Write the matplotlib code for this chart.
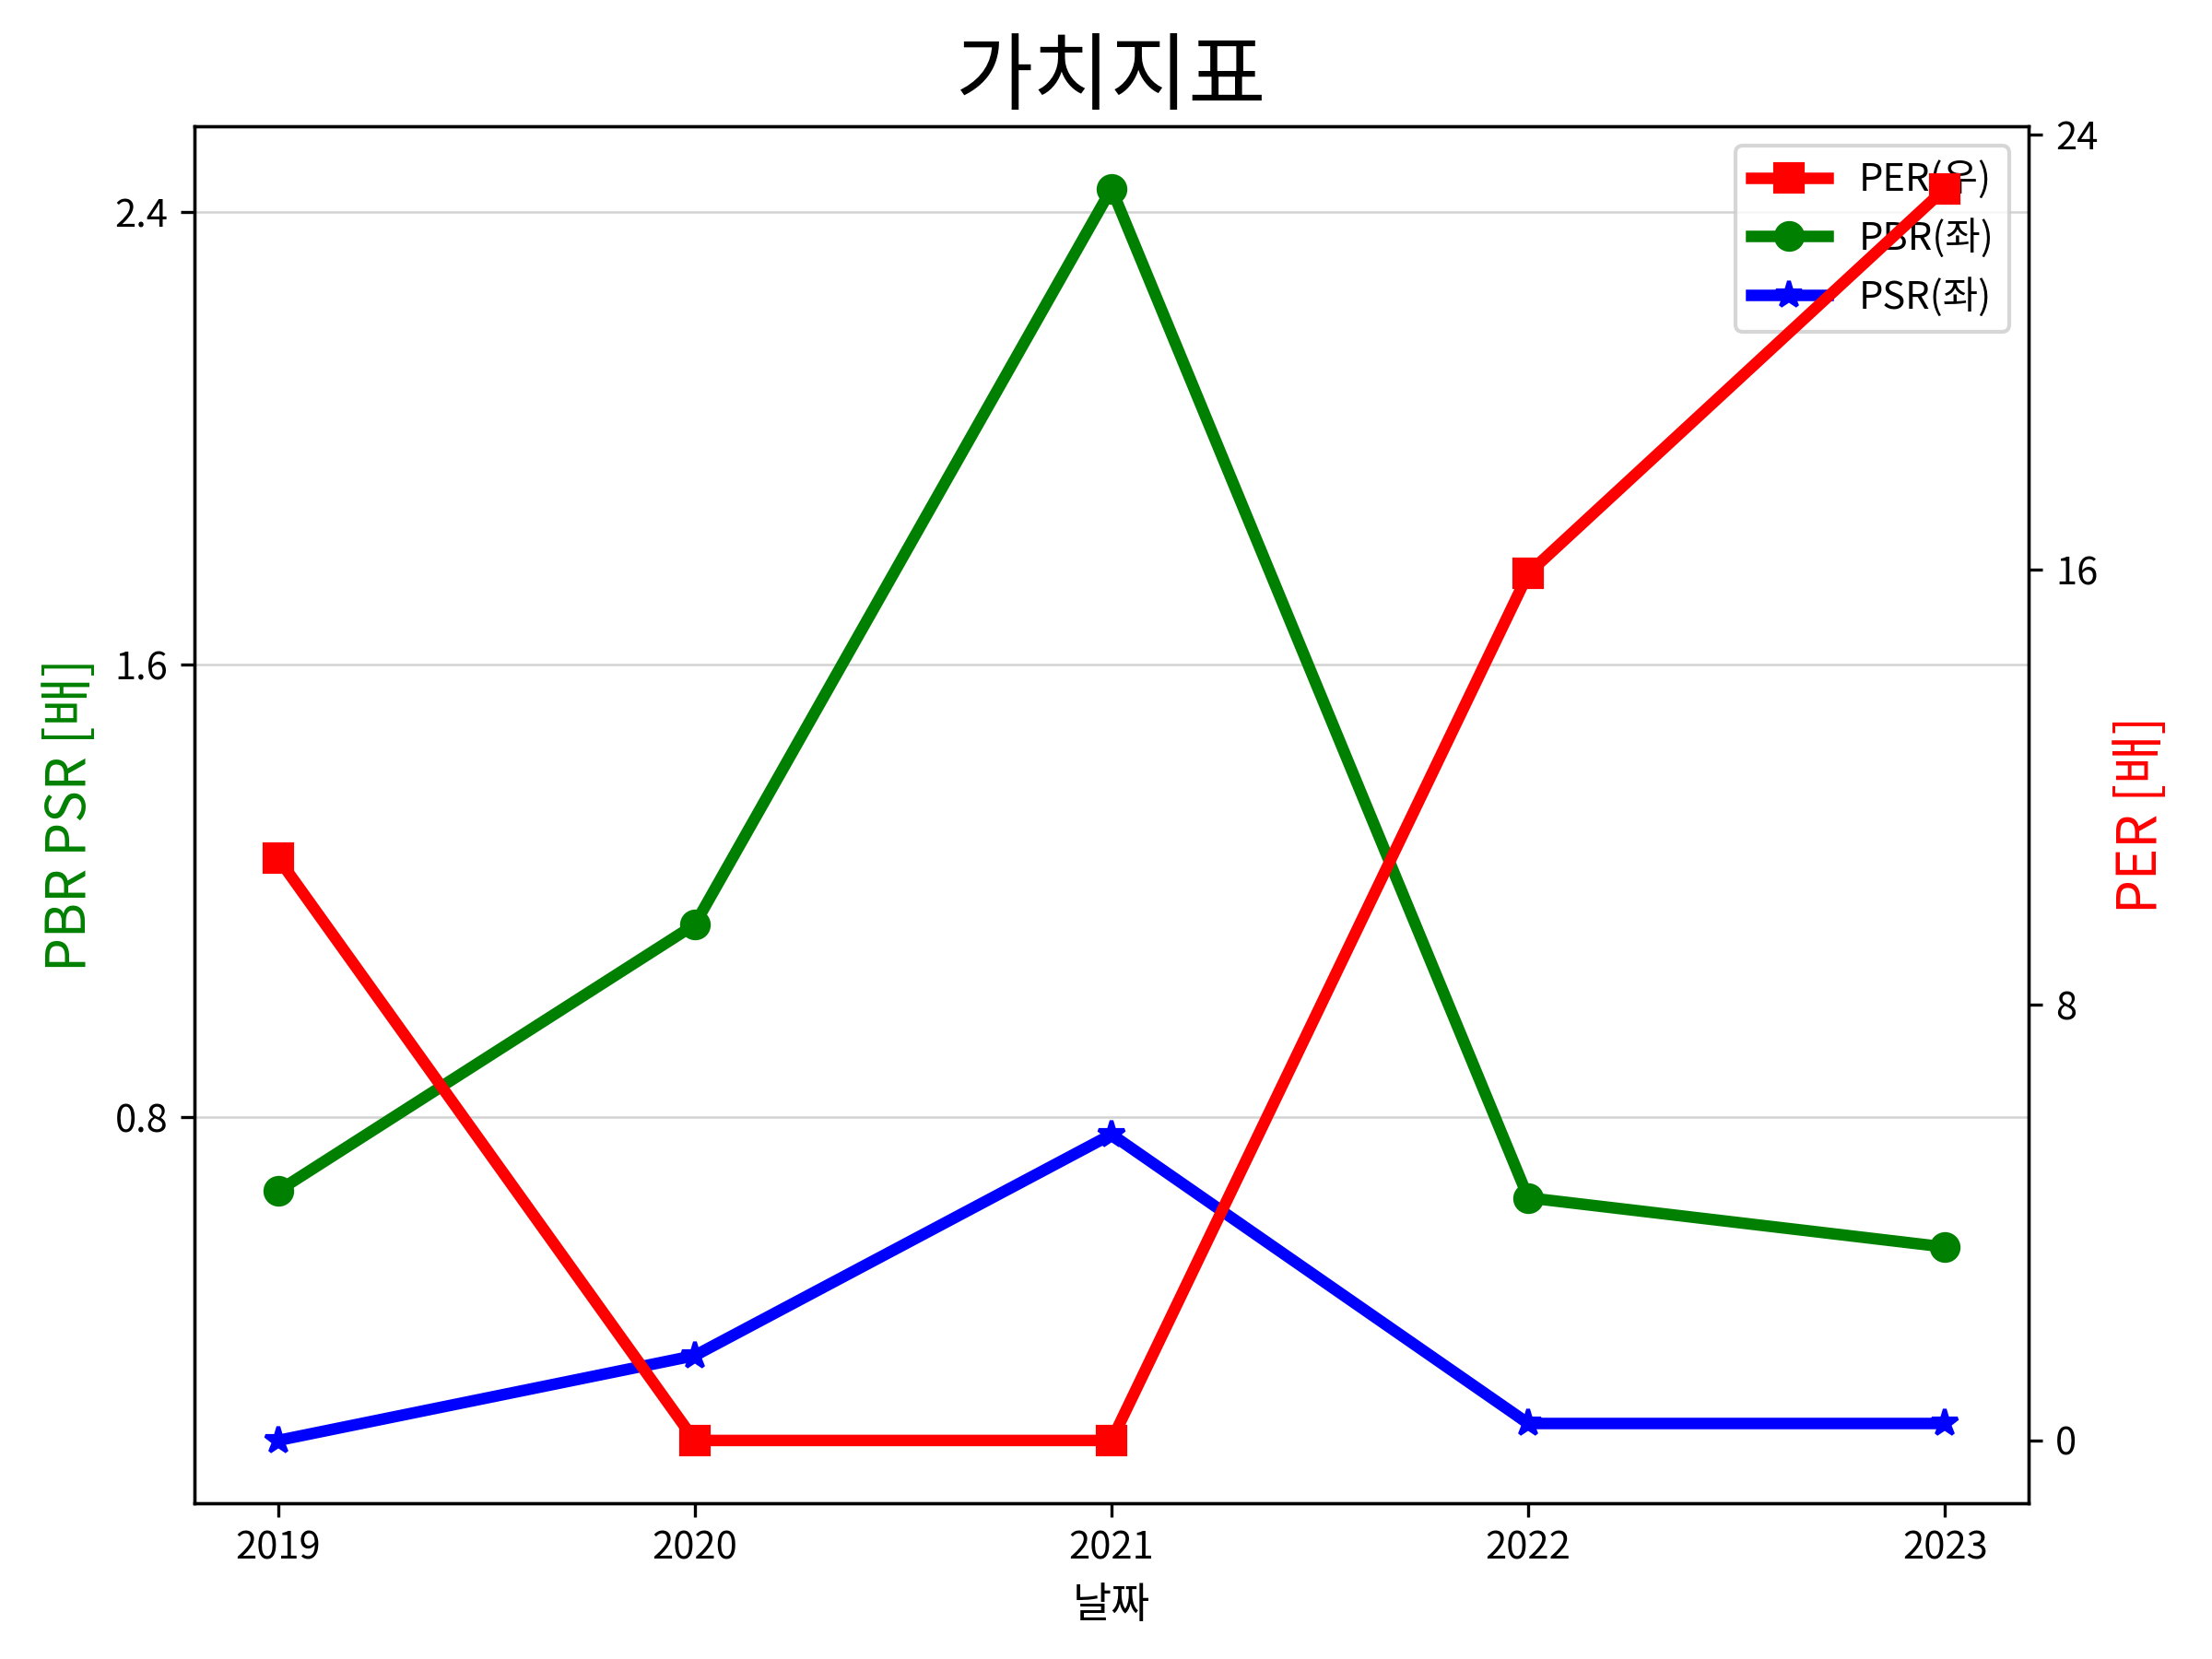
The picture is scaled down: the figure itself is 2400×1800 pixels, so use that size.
import numpy as np
import matplotlib.pyplot as plt
from matplotlib.ticker import MultipleLocator

plt.rcParams['font.family'] = ['Noto Sans CJK KR', 'DejaVu Sans']
plt.rcParams['axes.unicode_minus'] = False

years = ['2019', '2020', '2021', '2022', '2023']
per = [10.7, 0.0, 0.0, 15.93, 23.0]
pbr = [0.670, 1.141, 2.442, 0.658, 0.571]
psr = [0.229, 0.379, 0.770, 0.259, 0.259]

fig, ax1 = plt.subplots(figsize=(8, 6), dpi=300)
ax2 = ax1.twinx()

# 왼쪽 축: PBR, PSR
l2, = ax1.plot(years, pbr, color='green', marker='o', linewidth=3, markersize=7, label='PBR(좌)')
l3, = ax1.plot(years, psr, color='blue', marker='*', linewidth=3, markersize=7, label='PSR(좌)')
# 오른쪽 축: PER
l1, = ax2.plot(years, per, color='red', marker='s', linewidth=3, markersize=7, label='PER(우)')

ax1.yaxis.set_major_locator(MultipleLocator(0.8))
ax2.yaxis.set_major_locator(MultipleLocator(8))
ax1.grid(axis='y', color='lightgray', linewidth=0.6)

ax1.set_xlabel('날짜', fontsize=11)
ax1.set_ylabel('PBR PSR [배]', color='green', fontsize=14)
ax2.set_ylabel('PER [배]', color='red', fontsize=14)
ax1.set_title('가치지표', fontsize=22)

ax1.legend(handles=[l1, l2, l3], loc='upper right')

fig.subplots_adjust(left=0.088, right=0.917, top=0.924, bottom=0.094)
fig.savefig('out.png', dpi=300)
